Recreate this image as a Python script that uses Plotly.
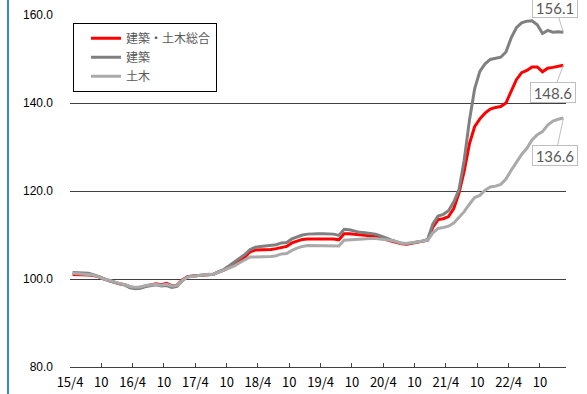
import plotly.graph_objects as go

# Monthly index, 2015/4 .. 2023/2
kenchiku_doboku = [
    101.0, 101.0, 101.0, 100.9, 100.8, 100.5, 100.0, 99.6, 99.2, 98.9,
    98.7, 98.2, 98.0, 98.1, 98.4, 98.7, 98.9, 98.7, 99.0, 98.5,
    98.6, 99.8, 100.5, 100.7, 100.8, 101.0, 101.1, 101.1, 101.6, 102.0,
    102.6, 103.3, 104.1, 105.0, 106.2, 106.6, 106.6, 106.6, 106.7, 106.9,
    107.2, 107.4, 108.2, 108.6, 109.0, 109.1, 109.1, 109.1, 109.1, 109.1,
    109.1, 108.9, 110.3, 110.3, 110.2, 110.1, 110.0, 109.8, 109.6, 109.3,
    109.0, 108.7, 108.4, 108.0, 107.9, 108.1, 108.3, 108.5, 108.8, 111.8,
    113.5, 113.7, 114.2, 116.0, 119.5, 124.5, 130.7, 134.6, 136.4, 137.7,
    138.6, 139.0, 139.2, 140.0, 142.8, 145.3, 146.9, 147.4, 148.2, 148.2,
    147.1, 147.9, 148.1, 148.3, 148.6,
]
kenchiku = [
    101.5, 101.4, 101.4, 101.3, 101.0, 100.6, 100.1, 99.6, 99.2, 98.9,
    98.6, 98.0, 97.8, 97.9, 98.3, 98.5, 98.7, 98.4, 98.5, 98.1,
    98.3, 99.6, 100.5, 100.7, 100.8, 101.0, 101.1, 101.1, 101.7, 102.2,
    103.0, 103.8, 104.6, 105.6, 106.7, 107.2, 107.4, 107.5, 107.6, 107.8,
    108.2, 108.3, 109.1, 109.5, 110.0, 110.2, 110.3, 110.3, 110.3, 110.3,
    110.2, 109.9, 111.3, 111.2, 110.9, 110.6, 110.5, 110.4, 110.2, 109.8,
    109.3, 108.9, 108.5, 108.1, 108.0, 108.2, 108.4, 108.6, 109.0, 112.5,
    114.3, 114.7, 115.5, 117.5, 120.3, 127.0, 136.0, 143.2, 147.2, 148.9,
    149.9, 150.2, 150.4, 151.6, 154.8, 157.1, 158.2, 158.6, 158.7, 157.8,
    155.8, 156.5, 156.1, 156.2, 156.1,
]
doboku = [
    101.3, 101.2, 101.2, 101.1, 100.9, 100.5, 100.0, 99.7, 99.3, 99.0,
    98.7, 98.3, 98.1, 98.2, 98.5, 98.7, 98.8, 98.6, 98.8, 98.4,
    98.5, 99.7, 100.4, 100.6, 100.8, 101.0, 101.1, 101.1, 101.6, 102.0,
    102.5, 103.0, 103.7, 104.4, 105.0, 105.0, 105.0, 105.0, 105.1, 105.3,
    105.7, 105.8, 106.5, 107.0, 107.4, 107.6, 107.6, 107.6, 107.6, 107.6,
    107.6, 107.5, 108.8, 108.9, 109.0, 109.0, 109.1, 109.2, 109.2, 109.1,
    108.9, 108.8, 108.5, 108.1, 108.1, 108.3, 108.5, 108.6, 108.8, 110.5,
    111.5, 111.7, 112.0, 112.7, 113.9, 115.3, 117.0, 118.5, 119.0, 120.2,
    120.9, 121.1, 121.5, 122.7, 124.7, 126.6, 128.3, 129.7, 131.6, 132.8,
    133.5, 135.0, 135.9, 136.3, 136.6,
]
series_names = ["建築・土木総合", "建築", "土木"]
series_colors = ["#FF0000", "#808080", "#AAAAAA"]
tick_labels = ["15/4", "10", "16/4", "10", "17/4", "10", "18/4", "10",
               "19/4", "10", "20/4", "10", "21/4", "10", "22/4", "10"]
y_ticks = [80, 100, 120, 140, 160]
end_labels = ["148.6", "156.1", "136.6"]

x = list(range(len(kenchiku)))
tick_pos = [i * 6 - 0.5 for i in range(len(tick_labels))]

fig = go.Figure()
for name, vals, col in zip(series_names, [kenchiku_doboku, kenchiku, doboku], series_colors):
    fig.add_trace(go.Scatter(x=x, y=vals, mode="lines", name=name,
                             line=dict(color=col, width=3), hoverinfo="skip"))

# callout labels
offsets = [(-10, 27), (-8, -25), (-8, 38)]
for vals, lab, (ax, ay) in zip([kenchiku_doboku, kenchiku, doboku], end_labels, offsets):
    fig.add_annotation(x=x[-1], y=vals[-1], text=lab, showarrow=True,
                       ax=ax, ay=ay, arrowhead=0, arrowwidth=1, arrowcolor="#BFBFBF",
                       standoff=0, startstandoff=0,
                       bordercolor="#BFBFBF", borderwidth=1, bgcolor="white",
                       width=42, height=17, borderpad=1,
                       font=dict(family="Lato, Open Sans, sans-serif", size=15, color="#595959"))

# blue frame line at the left
fig.add_shape(type="line", xref="paper", yref="paper",
              x0=-62 / 496, x1=-62 / 496, y0=-0.1, y1=1.1,
              line=dict(color="#3A87D4", width=2))

fig.update_layout(
    width=587, height=394,
    margin=dict(l=70, r=21, t=15, b=27, autoexpand=False),
    paper_bgcolor="white", plot_bgcolor="white",
    showlegend=True,
    legend=dict(x=0.006, y=0.978, xanchor="left", yanchor="top",
                bgcolor="white", bordercolor="#000000", borderwidth=1,
                font=dict(family="Noto Sans CJK JP", size=12, color="#595959"),
                tracegroupgap=0, indentation=12, itemwidth=30),
    xaxis=dict(range=[-0.5, 94.5], tickmode="array", tickvals=tick_pos, ticktext=tick_labels,
               showgrid=False, zeroline=False, showline=True, linecolor="#404040", linewidth=1,
               ticks="inside", ticklen=4, tickcolor="#404040", automargin=False,
               tickfont=dict(family="Noto Sans CJK JP", size=13, color="#000000"),
               ticklabelstandoff=3),
    yaxis=dict(range=[80, 160], tickmode="array", tickvals=y_ticks,
               ticktext=[f"{v:.1f}" for v in y_ticks], automargin=False,
               showgrid=True, gridcolor="#404040", gridwidth=1, zeroline=False,
               showline=False, ticks="",
               tickfont=dict(family="Liberation Sans, Arial", size=12, color="#000000"),
               ticklabelstandoff=16),
)

fig.write_html("out.html")
